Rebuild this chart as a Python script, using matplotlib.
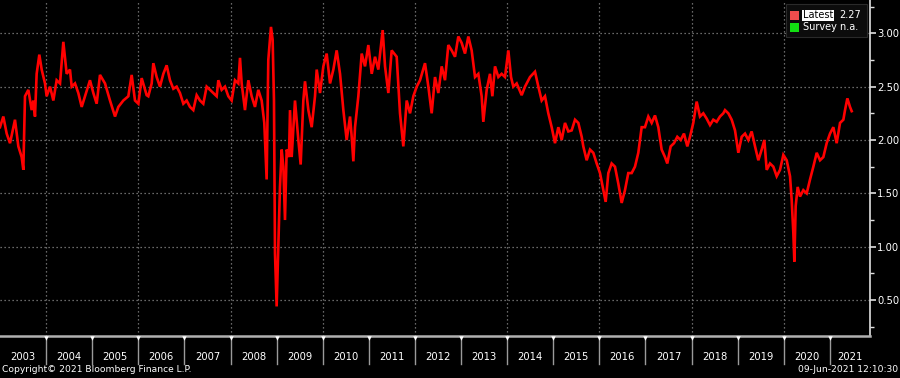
import matplotlib
matplotlib.use("Agg")
import matplotlib.pyplot as plt
from matplotlib.patches import Rectangle
import numpy as np

# ---- data (decimal years, value) ----
dates = [
    2003.000, 2003.072, 2003.145, 2003.217, 2003.325, 2003.398, 2003.470, 2003.506, 2003.542, 2003.615,
    2003.687, 2003.723, 2003.759, 2003.795, 2003.853, 2003.904, 2003.976, 2004.012, 2004.085, 2004.157,
    2004.229, 2004.302, 2004.374, 2004.446, 2004.518, 2004.555, 2004.627, 2004.699, 2004.772, 2004.844,
    2004.952, 2005.025, 2005.097, 2005.169, 2005.278, 2005.386, 2005.495, 2005.567, 2005.675, 2005.784,
    2005.856, 2005.928, 2006.001, 2006.073, 2006.181, 2006.217, 2006.290, 2006.326, 2006.398, 2006.470,
    2006.543, 2006.615, 2006.687, 2006.760, 2006.832, 2006.904, 2006.977, 2007.049, 2007.121, 2007.193,
    2007.266, 2007.338, 2007.410, 2007.483, 2007.555, 2007.627, 2007.700, 2007.736, 2007.808, 2007.880,
    2007.953, 2008.025, 2008.097, 2008.170, 2008.206, 2008.242, 2008.314, 2008.387, 2008.459, 2008.531,
    2008.603, 2008.676, 2008.733, 2008.784, 2008.820, 2008.878, 2008.914, 2008.943, 2008.965, 2009.001,
    2009.037, 2009.073, 2009.110, 2009.146, 2009.182, 2009.218, 2009.269, 2009.291, 2009.327, 2009.399,
    2009.472, 2009.522, 2009.580, 2009.616, 2009.689, 2009.761, 2009.833, 2009.870, 2009.942, 2010.014,
    2010.086, 2010.159, 2010.231, 2010.303, 2010.376, 2010.448, 2010.520, 2010.593, 2010.629, 2010.665,
    2010.701, 2010.773, 2010.846, 2010.918, 2010.990, 2011.063, 2011.135, 2011.207, 2011.301, 2011.352,
    2011.424, 2011.496, 2011.605, 2011.677, 2011.749, 2011.822, 2011.894, 2011.966, 2012.039, 2012.111,
    2012.219, 2012.292, 2012.364, 2012.436, 2012.508, 2012.581, 2012.653, 2012.725, 2012.797, 2012.870,
    2012.942, 2013.014, 2013.087, 2013.159, 2013.231, 2013.304, 2013.376, 2013.448, 2013.484, 2013.557,
    2013.629, 2013.680, 2013.738, 2013.810, 2013.882, 2013.954, 2014.027, 2014.085, 2014.135, 2014.208,
    2014.316, 2014.388, 2014.497, 2014.605, 2014.678, 2014.750, 2014.822, 2014.894, 2014.967, 2015.039,
    2015.111, 2015.184, 2015.256, 2015.328, 2015.401, 2015.473, 2015.545, 2015.618, 2015.653, 2015.726,
    2015.798, 2015.870, 2015.943, 2016.015, 2016.087, 2016.138, 2016.196, 2016.268, 2016.340, 2016.413,
    2016.485, 2016.557, 2016.629, 2016.702, 2016.774, 2016.846, 2016.919, 2016.991, 2017.063, 2017.136,
    2017.208, 2017.280, 2017.352, 2017.425, 2017.475, 2017.548, 2017.620, 2017.692, 2017.765, 2017.837,
    2017.909, 2017.967, 2018.039, 2018.112, 2018.184, 2018.256, 2018.329, 2018.401, 2018.473, 2018.546,
    2018.618, 2018.690, 2018.727, 2018.799, 2018.872, 2018.944, 2019.016, 2019.089, 2019.161, 2019.233,
    2019.305, 2019.378, 2019.450, 2019.522, 2019.580, 2019.631, 2019.703, 2019.775, 2019.848, 2019.920,
    2019.992, 2020.065, 2020.137, 2020.173, 2020.209, 2020.231, 2020.260, 2020.303, 2020.354, 2020.426,
    2020.499, 2020.571, 2020.643, 2020.716, 2020.788, 2020.860, 2020.932, 2021.005, 2021.077, 2021.149,
    2021.222, 2021.294, 2021.330, 2021.381, 2021.438, 2021.475,
]
values = [
    2.12, 2.22, 2.06, 1.97, 2.19, 1.94, 1.84, 1.72, 2.41, 2.47,
    2.28, 2.37, 2.22, 2.62, 2.80, 2.66, 2.53, 2.41, 2.50, 2.37,
    2.56, 2.53, 2.92, 2.62, 2.66, 2.50, 2.53, 2.44, 2.31, 2.41,
    2.56, 2.44, 2.34, 2.61, 2.53, 2.37, 2.22, 2.31, 2.37, 2.41,
    2.61, 2.37, 2.34, 2.58, 2.42, 2.41, 2.53, 2.72, 2.59, 2.50,
    2.62, 2.70, 2.56, 2.48, 2.50, 2.44, 2.34, 2.37, 2.31, 2.28,
    2.42, 2.37, 2.34, 2.50, 2.47, 2.44, 2.41, 2.56, 2.47, 2.50,
    2.41, 2.37, 2.56, 2.53, 2.77, 2.53, 2.28, 2.56, 2.41, 2.31,
    2.47, 2.37, 2.16, 1.63, 2.75, 3.06, 2.94, 2.37, 0.94, 0.44,
    1.00, 1.56, 1.91, 1.75, 1.25, 1.91, 1.84, 2.28, 1.84, 2.37,
    2.00, 1.77, 2.37, 2.55, 2.28, 2.12, 2.41, 2.66, 2.44, 2.69,
    2.81, 2.53, 2.66, 2.84, 2.62, 2.28, 2.00, 2.22, 2.03, 1.80,
    2.12, 2.41, 2.81, 2.69, 2.89, 2.62, 2.78, 2.66, 3.03, 2.69,
    2.44, 2.84, 2.78, 2.25, 1.94, 2.37, 2.25, 2.41, 2.50, 2.56,
    2.72, 2.50, 2.25, 2.59, 2.44, 2.69, 2.56, 2.89, 2.84, 2.78,
    2.97, 2.91, 2.81, 2.97, 2.84, 2.59, 2.62, 2.41, 2.17, 2.47,
    2.62, 2.41, 2.69, 2.59, 2.62, 2.59, 2.84, 2.59, 2.50, 2.53,
    2.42, 2.50, 2.59, 2.64, 2.50, 2.37, 2.41, 2.25, 2.12, 1.97,
    2.12, 2.00, 2.16, 2.08, 2.09, 2.19, 2.16, 2.03, 1.94, 1.81,
    1.91, 1.88, 1.78, 1.69, 1.53, 1.42, 1.69, 1.78, 1.75, 1.59,
    1.41, 1.53, 1.69, 1.69, 1.75, 1.88, 2.12, 2.12, 2.22, 2.16,
    2.23, 2.12, 1.91, 1.84, 1.78, 1.94, 1.97, 2.03, 2.00, 2.06,
    1.94, 2.03, 2.16, 2.36, 2.22, 2.25, 2.20, 2.14, 2.19, 2.17,
    2.22, 2.25, 2.28, 2.25, 2.19, 2.09, 1.88, 2.03, 2.06, 2.00,
    2.08, 1.94, 1.81, 1.91, 2.00, 1.72, 1.78, 1.75, 1.66, 1.72,
    1.86, 1.81, 1.66, 1.44, 1.13, 0.86, 1.38, 1.56, 1.47, 1.53,
    1.50, 1.63, 1.75, 1.88, 1.81, 1.84, 1.97, 2.06, 2.12, 1.97,
    2.16, 2.19, 2.28, 2.39, 2.31, 2.27,
]
years = list(range(2003, 2022))
y_major = [0.50, 1.00, 1.50, 2.00, 2.50, 3.00]
y_minor = [0.25, 0.75, 1.25, 1.75, 2.25, 2.75, 3.25]
latest_label = "2.27"
survey_label = "Survey n.a."
copyright_text = "Copyright\u00a9 2021 Bloomberg Finance L.P."
stamp_text = "09-Jun-2021 12:10:30"

W, H = 900, 378
fig = plt.figure(figsize=(W / 100, H / 100), dpi=100, facecolor="black")
ax_left, ax_right, ax_top, ax_bot = 0, 870, 0, 336
ax = fig.add_axes([ax_left / W, 1 - ax_bot / H, (ax_right - ax_left) / W, (ax_bot - ax_top) / H])
ax.set_facecolor("black")

xmin, xmax = 2003.0, 2021.872
ax.set_xlim(xmin, xmax)
ax.set_ylim(0.163, 3.312)

# grid
for yv in y_major:
    ax.axhline(yv, color="#8a8a8a", lw=0.9, ls=(0, (1, 2.2)), zorder=1)
for yr in years[1:]:
    if yr % 2 == 0:
        ax.axvline(yr, color="#8a8a8a", lw=0.9, ls=(0, (1, 2.2)), zorder=1)

ax.plot(dates, values, color="#ff0000", lw=1.9, zorder=3, solid_joinstyle="miter")

# spines
for s in ["top", "left"]:
    ax.spines[s].set_visible(False)
ax.spines["right"].set_color("#e0e0e0")
ax.spines["right"].set_linewidth(1.2)
ax.spines["bottom"].set_color("#b0b0b0")
ax.spines["bottom"].set_linewidth(1.8)

# y axis on right
ax.yaxis.tick_right()
ax.set_yticks(y_major)
ax.set_yticks(y_minor, minor=True)
ax.set_yticklabels([f"{v:.2f}" for v in y_major])
ax.tick_params(axis="y", which="major", colors="#e0e0e0", length=4, width=1.2, pad=1,
               labelsize=7.2, labelcolor="white", direction="out")
ax.tick_params(axis="y", which="minor", colors="#e0e0e0", length=3, width=1.0, direction="out")

# x axis: ticks at year starts, labels centred
ax.set_xticks(years[1:])
ax.set_xticklabels([])
ax.tick_params(axis="x", which="major", length=0)
tr = ax.get_xaxis_transform()
for yr in years[1:]:
    ax.plot([yr, yr], [-0.004, -0.082], transform=tr, color="#9a9a9a", lw=1.0, clip_on=False, zorder=2)
    ax.plot([yr], [-0.006], transform=tr, marker="v", ms=3.2, color="white", mew=0, clip_on=False, zorder=4)
for yr in years:
    right = min(yr + 1, xmax)
    ax.text((yr + right) / 2, -0.062, str(yr), transform=tr, ha="center", va="center",
            color="white", fontsize=7.2, clip_on=False)

# footer
fig.text(2 / W, 1 - 370 / H, copyright_text, color="white", fontsize=6.6, ha="left", va="center")
fig.text(898 / W, 1 - 370 / H, stamp_text, color="white", fontsize=6.6, ha="right", va="center")

# legend box
def px_rect(x0, y0, x1, y1, **kw):
    fig.add_artist(Rectangle((x0 / W, 1 - y1 / H), (x1 - x0) / W, (y1 - y0) / H,
                             transform=fig.transFigure, **kw))

px_rect(786, 4, 867, 37, facecolor="#0c0c0c", edgecolor="#2a2a2a", lw=0.8, zorder=5)
px_rect(790, 11, 799, 19.5, facecolor="#ef4c4c", edgecolor="none", zorder=6)
px_rect(790, 23, 799, 31.5, facecolor="#12e012", edgecolor="none", zorder=6)
px_rect(802, 10, 834, 21, facecolor="white", edgecolor="none", zorder=6)
fig.text(803 / W, 1 - 15.5 / H, "Latest", color="black", fontsize=7.0, ha="left", va="center", zorder=7)
fig.text(839 / W, 1 - 15.5 / H, latest_label, color="white", fontsize=7.0, ha="left", va="center", zorder=7)
fig.text(803 / W, 1 - 27.5 / H, survey_label, color="white", fontsize=7.0, ha="left", va="center", zorder=7)

fig.savefig("out.png", dpi=100, facecolor="black")
